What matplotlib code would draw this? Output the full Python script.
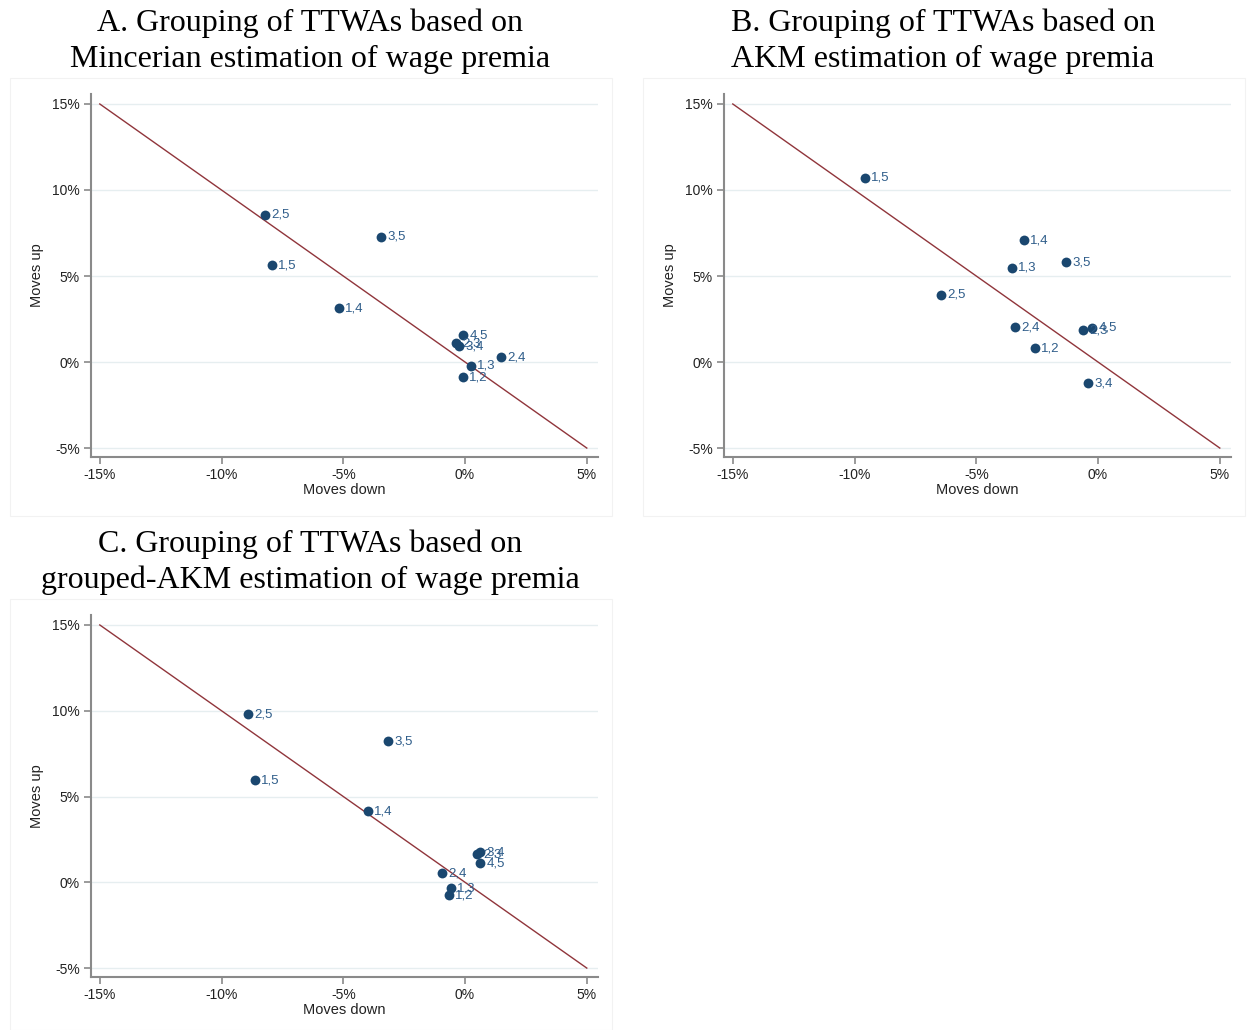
import numpy as np
import matplotlib
matplotlib.use("Agg")
import matplotlib.pyplot as plt
from matplotlib.patches import Rectangle

# panel A: Mincerian
a_lab = ["2,5", "3,5", "1,5", "1,4", "4,5", "2,3", "3,4", "2,4", "1,3", "1,2"]
a_x = [-8.21, -3.45, -7.93, -5.17, -0.08, -0.37, -0.25, 1.48, 0.25, -0.08]
a_y = [8.55, 7.27, 5.64, 3.14, 1.57, 1.10, 0.93, 0.29, -0.23, -0.87]

# panel B: AKM
b_lab = ["1,5", "1,4", "1,3", "3,5", "2,5", "2,4", "2,3", "4,5", "1,2", "3,4"]
b_x = [-9.57, -3.04, -3.53, -1.31, -6.45, -3.41, -0.62, -0.25, -2.59, -0.41]
b_y = [10.70, 7.09, 5.47, 5.81, 3.90, 2.03, 1.86, 1.98, 0.81, -1.22]

# panel C: grouped-AKM
c_lab = ["2,5", "3,5", "1,5", "1,4", "2,3", "3,4", "4,5", "2,4", "1,3", "1,2"]
c_x = [-8.91, -3.16, -8.62, -3.98, 0.49, 0.62, 0.62, -0.94, -0.57, -0.66]
c_y = [9.80, 8.22, 5.95, 4.14, 1.63, 1.75, 1.11, 0.52, -0.35, -0.76]

ticks = [-15, -10, -5, 0, 5]
yticks = [-5, 0, 5, 10, 15]

titles = ["A. Grouping of TTWAs based on\nMincerian estimation of wage premia",
          "B. Grouping of TTWAs based on\nAKM estimation of wage premia",
          "C. Grouping of TTWAs based on\ngrouped-AKM estimation of wage premia"]

navy = "#1a476f"
maroon = "#90353b"
W, H = 1248, 1030

fig = plt.figure(figsize=(W / 100, H / 100), dpi=100)
plt.rcParams['font.family'] = ['Liberation Sans', 'DejaVu Sans']


def panel(left_px, top_px, bottom_px, xs, ys, labs, title, tcx, ty1, box):
    ax = fig.add_axes([left_px / W, 1 - bottom_px / H, 507 / W, (bottom_px - top_px) / H])
    bx = box
    fig.patches.append(Rectangle((bx[0] / W, 1 - bx[3] / H), (bx[2] - bx[0]) / W, (bx[3] - bx[1]) / H,
                                 transform=fig.transFigure, fill=False, ec="#f2f2f2", lw=0.8, zorder=0))
    ax.set_xlim(-15.36, 5.46)
    ax.set_ylim(-5.52, 15.58)
    for t in yticks:
        ax.axhline(t, color="#e6eef0", lw=1.0, zorder=0)
    ax.plot([-15, 5], [15, -5], color=maroon, lw=1.0, zorder=2)
    ax.scatter(xs, ys, s=50, color=navy, zorder=3, linewidths=0)
    for x, y, l in zip(xs, ys, labs):
        ax.annotate(l, (x, y), xytext=(4.5, 0), textcoords="offset points",
                    va="center", ha="left", fontsize=9.5, color="#2f5d8a", zorder=4)
    ax.set_xticks(ticks)
    ax.set_xticklabels([f"{t}%" for t in ticks])
    ax.set_yticks(yticks)
    ax.set_yticklabels([f"{t}%" for t in yticks])
    ax.tick_params(axis="both", labelsize=10, length=5, width=1.2, color="#8a8a8a",
                   labelcolor="#222222", pad=3)
    for s in ["top", "right"]:
        ax.spines[s].set_visible(False)
    for s in ["left", "bottom"]:
        ax.spines[s].set_color("#8a8a8a")
        ax.spines[s].set_linewidth(1.5)
    ax.set_xlabel("Moves down", fontsize=10.5, color="#222222", labelpad=1)
    ax.set_ylabel("Moves up", fontsize=10.5, color="#222222", labelpad=6)
    l1, l2 = title.split("\n")
    fig.text(tcx / W, 1 - ty1 / H, l1, ha="center", va="center", fontsize=23,
             family="Liberation Serif", color="black")
    fig.text(tcx / W, 1 - (ty1 + 36) / H, l2, ha="center", va="center", fontsize=23,
             family="Liberation Serif", color="black")
    return ax


panel(91, 94, 457, a_x, a_y, a_lab, titles[0], 310, 23, (10, 78, 612, 516))
panel(724, 94, 457, b_x, b_y, b_lab, titles[1], 943, 23, (643, 78, 1245, 516))
panel(91, 615, 977, c_x, c_y, c_lab, titles[2], 310, 544, (10, 599, 612, 1030))

fig.savefig("out.png", dpi=100, facecolor="white")
